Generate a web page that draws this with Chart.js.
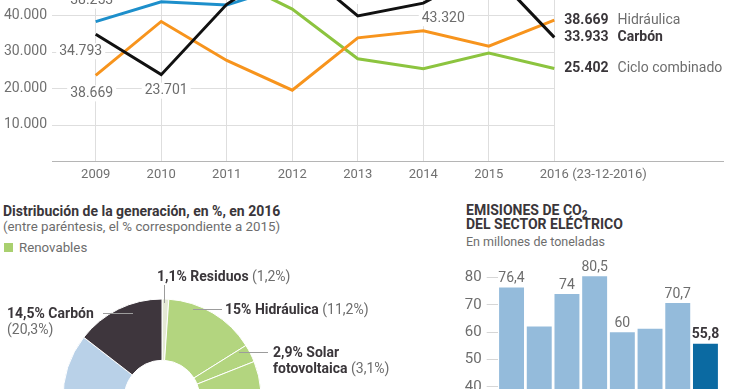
<!DOCTYPE html>
<html lang="es">
<head>
<meta charset="utf-8">
<title>Generación eléctrica 2016</title>
<script src="https://cdn.jsdelivr.net/npm/chart.js@4.4.1/dist/chart.umd.min.js"></script>
<style>
  html, body { margin: 0; padding: 0; background: #fff; }
  body { width: 740px; height: 389px; overflow: hidden; position: relative; font-family: Roboto, sans-serif; color: #3a363a; }
  canvas { position: absolute; }
  .t { position: absolute; white-space: nowrap; font-size: 14px; line-height: 16px; color: #6d6d6d; }
  .s { font-size: 13.3px; }
  .b { font-weight: 700; color: #3a363a; }
  .lead { position: absolute; background: #9c9c9c; }
  sub { font-size: 10px; vertical-align: -3px; line-height: 0; }
</style>
</head>
<body>
<canvas id="lineChart" width="740" height="262" style="left:0; top:-71px"></canvas>
<canvas id="donutChart" width="220" height="220" style="left:52px; top:288px"></canvas>
<canvas id="barChart" width="290" height="260" style="left:450px; top:250px"></canvas>

<div class="t b" style="left:3px; top:203px">Distribución de la generación, en %, en 2016</div>
<div class="t s" style="left:3px; top:219px">(entre paréntesis, el % correspondiente a 2015)</div>
<div style="position:absolute; left:4px; top:243px; width:9px; height:9px; background:#a9d06f"></div>
<div class="t s" style="left:19px; top:240px">Renovables</div>

<div class="lead" style="left:164px; top:285px; width:1px; height:18px"></div>
<div class="lead" style="left:193px; top:309px; width:29px; height:1px"></div>
<div class="lead" style="left:239px; top:352px; width:29px; height:1px"></div>
<div class="lead" style="left:103px; top:313px; width:30px; height:1px"></div>
<div class="t" style="left:157px; top:268px"><span class="b">1,1% Residuos</span> (1,2%)</div>
<div class="t" style="left:225px; top:301px"><span class="b">15% Hidráulica</span> (11,2%)</div>
<div class="t" style="left:273px; top:344px"><span class="b">2,9% Solar</span></div>
<div class="t" style="left:273px; top:360px"><span class="b">fotovoltaica</span> (3,1%)</div>
<div class="t" style="left:7px; top:305px"><span class="b">14,5% Carbón</span></div>
<div class="t" style="left:7px; top:321px">(20,3%)</div>

<div class="t b" style="left:466px; top:202px">EMISIONES DE CO<sub>2</sub></div>
<div class="t b" style="left:466px; top:216px">DEL SECTOR ELÉCTRICO</div>
<div class="t" style="left:466px; top:234px; font-size:12.5px">En millones de toneladas</div>

<script>
// generación por fuente, GWh
const years = [2009, 2010, 2011, 2012, 2013, 2014, 2015, 2016];
const carbon = [34793, 23701, 43000, 54700, 39800, 43320, 52800, 33933];
const eolica = [38253, 43700, 42800, 48500, 54700, 51000, 48100, 47300];
const hidraulica = [23500, 38300, 27600, 19430, 33800, 35770, 31500, 38669];
const cicloCombinado = [78300, 64600, 50600, 41700, 28070, 25340, 29600, 25402];

const pointLabels = [
  { serie: 'Eólica', year: 2009, text: '38.253' },
  { serie: 'Carbón', year: 2009, text: '34.793' },
  { serie: 'Hidráulica', year: 2009, text: '38.669' },
  { serie: 'Carbón', year: 2010, text: '23.701' },
  { serie: 'Carbón', year: 2013, text: '39.807' },
  { serie: 'Carbón', year: 2014, text: '43.320' }
];
const labelOffsets = [[-4, -21], [-15, 17], [-4, 18], [5, 16], [13, -20], [20, 15]];

const endLabels = [
  { serie: 'Hidráulica', value: '38.669', name: 'Hidráulica', bold: false },
  { serie: 'Carbón', value: '33.933', name: 'Carbón', bold: true },
  { serie: 'Ciclo combinado', value: '25.402', name: 'Ciclo combinado', bold: false }
];
const lastTickSuffix = ' (23-12-2016)';

// distribución 2016, %
const fuentes = ['Residuos', 'Hidráulica', 'Solar fotovoltaica', 'Eólica', 'Solar térmica',
  'Otras renovables', 'Cogeneración', 'Ciclo combinado', 'Nuclear', 'Carbón'];
const cuota2016 = [1.1, 15, 2.9, 19.1, 1.8, 1.9, 10.7, 11.0, 22.0, 14.5];

// emisiones CO2, millones de toneladas
const barYears = ['2009', '2010', '2011', '2012', '2013', '2014', '2015', '2016'];
const emisiones = [76.4, 62.1, 74, 80.5, 60, 61.3, 70.7, 55.8];
const barLabels = ['76,4', '', '74', '80,5', '60', '', '70,7', '55,8'];

const FONT = 'Roboto, sans-serif';
const DARK = '#3a363a';
const GREY = '#6d6d6d';
Chart.defaults.font.family = FONT;

const fmt = v => String(v).replace(/\B(?=(\d{3})+(?!\d))/g, '.');

function serie(label, values, color) {
  return {
    label,
    data: years.map((y, i) => ({ x: y, y: values[i] })),
    borderColor: color,
    borderWidth: 3,
    pointRadius: 0,
    tension: 0,
    fill: false
  };
}

const lineExtras = {
  id: 'lineExtras',
  beforeDatasetsDraw(chart) {
    const { ctx, chartArea, scales: { x, y } } = chart;
    const xEnd = x.getPixelForValue(years[years.length - 1]);
    ctx.save();
    ctx.strokeStyle = '#dedede';
    ctx.lineWidth = 1;
    y.ticks.forEach(t => {
      if (t.value === 0) return;
      const py = Math.round(y.getPixelForValue(t.value)) + 0.5;
      ctx.beginPath();
      ctx.moveTo(chartArea.left, py);
      ctx.lineTo(xEnd, py);
      ctx.stroke();
    });

    ctx.font = '14px ' + FONT;
    ctx.textAlign = 'center';
    ctx.textBaseline = 'middle';
    pointLabels.forEach((lab, k) => {
      const ds = chart.data.datasets.findIndex(d => d.label === lab.serie);
      const pt = chart.getDatasetMeta(ds).data[years.indexOf(lab.year)];
      const cx = pt.x + labelOffsets[k][0];
      const cy = pt.y + labelOffsets[k][1];
      const w = ctx.measureText(lab.text).width;
      ctx.fillStyle = '#fff';
      ctx.fillRect(cx - w / 2 - 3, cy - 8, w + 6, 16);
      ctx.fillStyle = GREY;
      ctx.fillText(lab.text, cx, cy);
    });
    ctx.restore();
  },
  afterDatasetsDraw(chart) {
    const { ctx } = chart;
    ctx.save();
    ctx.textBaseline = 'middle';
    ctx.textAlign = 'left';
    endLabels.forEach(lab => {
      const ds = chart.data.datasets.findIndex(d => d.label === lab.serie);
      const meta = chart.getDatasetMeta(ds);
      const pt = meta.data[meta.data.length - 1];
      const x0 = pt.x + 10;
      ctx.font = 'bold 14px ' + FONT;
      ctx.fillStyle = DARK;
      ctx.fillText(lab.value, x0, pt.y);
      const w = ctx.measureText(lab.value).width;
      ctx.font = (lab.bold ? 'bold ' : '') + '14px ' + FONT;
      ctx.fillStyle = lab.bold ? DARK : GREY;
      ctx.fillText(lab.name, x0 + w + 9, pt.y);
    });
    ctx.restore();
  },
  afterDraw(chart) {
    const { ctx, scales: { x } } = chart;
    const items = x.getLabelItems();
    const last = items[items.length - 1];
    const [lx, ly] = last.options.translation;
    ctx.save();
    ctx.font = '13px ' + FONT;
    ctx.fillStyle = '#707070';
    ctx.textAlign = 'left';
    ctx.textBaseline = last.options.textBaseline;
    const w = ctx.measureText(String(last.label)).width;
    ctx.fillText(lastTickSuffix, lx + w / 2, ly + last.textOffset);
    ctx.restore();
  }
};

new Chart(document.getElementById('lineChart'), {
  type: 'line',
  data: {
    datasets: [
      serie('Carbón', carbon, '#111111'),
      serie('Eólica', eolica, '#1d8fcb'),
      serie('Hidráulica', hidraulica, '#f7941d'),
      serie('Ciclo combinado', cicloCombinado, '#8cc43f')
    ]
  },
  options: {
    responsive: false,
    animation: false,
    layout: { padding: { top: 12, right: 17, left: 0, bottom: 0 } },
    plugins: { legend: { display: false }, tooltip: { enabled: false } },
    scales: {
      x: {
        type: 'linear',
        min: 2008.333,
        max: 2018.575,
        afterBuildTicks: s => { s.ticks = years.map(v => ({ value: v })); },
        afterFit: s => { s.height = 30; },
        grid: { color: '#dedede', drawTicks: false },
        border: { color: '#b5b5b5' },
        ticks: {
          padding: 6, color: '#707070', font: { size: 13 },
          maxRotation: 0, autoSkip: false, callback: v => String(v)
        }
      },
      y: {
        min: 0,
        max: 60000,
        afterFit: s => { s.width = 52; },
        grid: { display: false, drawTicks: false },
        border: { display: false },
        ticks: {
          stepSize: 10000, includeBounds: false, padding: 5, color: '#707070',
          font: { size: 14 }, callback: v => v === 0 ? '' : fmt(v)
        }
      }
    }
  },
  plugins: [lineExtras]
});

new Chart(document.getElementById('donutChart'), {
  type: 'doughnut',
  data: {
    labels: fuentes,
    datasets: [{
      data: cuota2016,
      backgroundColor: ['#e4e9d4', '#b3d57f', '#b3d57f', '#b3d57f', '#b3d57f', '#b3d57f',
        '#d9d9d9', '#7fa7cf', '#b9d1e8', '#3e363d'],
      borderColor: '#ffffff',
      borderWidth: 1
    }]
  },
  options: {
    responsive: false,
    animation: false,
    cutout: 37.5,
    radius: 99,
    layout: { padding: 11 },
    plugins: { legend: { display: false }, tooltip: { enabled: false } }
  }
});

const barValues = {
  id: 'barValues',
  afterDatasetsDraw(chart) {
    const { ctx } = chart;
    const bars = chart.getDatasetMeta(0).data;
    ctx.save();
    ctx.textAlign = 'center';
    ctx.textBaseline = 'middle';
    bars.forEach((bar, i) => {
      if (!barLabels[i]) return;
      const last = i === bars.length - 1;
      ctx.font = (last ? 'bold ' : '') + '14px ' + FONT;
      ctx.fillStyle = last ? DARK : GREY;
      ctx.fillText(barLabels[i], bar.x, bar.y - 9);
    });
    ctx.restore();
  }
};

new Chart(document.getElementById('barChart'), {
  type: 'bar',
  data: {
    labels: barYears,
    datasets: [{
      data: emisiones,
      backgroundColor: emisiones.map((v, i) => i === emisiones.length - 1 ? '#0b6aa2' : '#94bbdb'),
      barPercentage: 0.9,
      categoryPercentage: 1
    }]
  },
  options: {
    responsive: false,
    animation: false,
    layout: { padding: { top: 7.8, bottom: 5.7, right: 20.7, left: 0 } },
    plugins: { legend: { display: false }, tooltip: { enabled: false } },
    scales: {
      x: { display: false },
      y: {
        min: 0,
        max: 85,
        afterFit: s => { s.width = 47.7; },
        grid: { drawOnChartArea: false, tickLength: 11, color: '#d6d6d6' },
        border: { display: false },
        ticks: { stepSize: 10, includeBounds: false, padding: 5, color: GREY, font: { size: 15 } }
      }
    }
  },
  plugins: [barValues]
});
</script>
</body>
</html>
